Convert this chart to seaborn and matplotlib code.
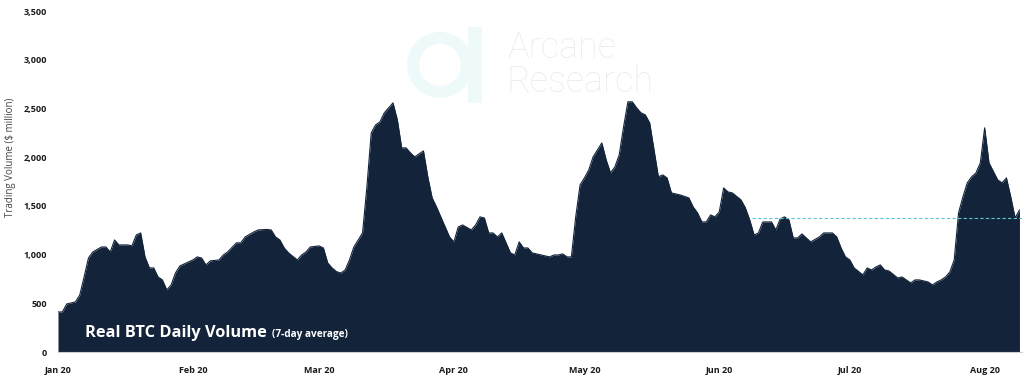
import pandas as pd
import matplotlib
matplotlib.use('Agg')
import matplotlib.pyplot as plt
import matplotlib.dates as mdates
from matplotlib.patches import Wedge, Rectangle
from matplotlib.ticker import FuncFormatter
from matplotlib.transforms import offset_copy
import seaborn as sns

# ------------------------------------------
# Data
# ------------------------------------------
START = '2020-01-01'

day_offset = [0, 1, 2, 4, 5, 6, 7, 8, 10, 11, 12, 13, 14, 16, 17, 18, 19, 20,
              21, 22, 23, 24, 25, 26, 27, 28, 30, 31, 32, 33, 34, 35, 37, 38,
              39, 41, 42, 43, 45, 46, 48, 49, 50, 51, 52, 53, 55, 56, 57, 58,
              60, 61, 62, 63, 64, 65, 66, 67, 68, 70, 71, 72, 73, 74, 75, 77,
              78, 79, 80, 81, 82, 84, 85, 86, 87, 88, 90, 91, 92, 93, 95, 96,
              97, 98, 99, 100, 101, 102, 103, 104, 105, 106, 107, 108, 109,
              110, 111, 113, 114, 115, 116, 117, 118, 119, 120, 121, 122, 123,
              125, 126, 127, 128, 129, 130, 131, 132, 133, 134, 135, 136, 137,
              138, 139, 140, 141, 143, 145, 146, 147, 148, 149, 150, 151, 152,
              153, 154, 155, 157, 158, 159, 160, 161, 162, 163, 164, 165, 166,
              167, 168, 169, 170, 171, 172, 173, 175, 176, 178, 179, 180, 181,
              182, 183, 185, 186, 187, 188, 189, 190, 191, 193, 194, 196, 197,
              198, 200, 201, 202, 203, 204, 205, 206, 207, 208, 209, 210, 211,
              212, 213, 214, 216, 217, 218, 219, 220, 221]

volume = [411, 411, 493, 514, 585, 770, 965, 1027, 1078, 1078, 1027, 1150,
          1099, 1099, 1090, 1201, 1222, 976, 863, 863, 770, 740, 637, 688,
          811, 883, 925, 945, 976, 965, 894, 935, 945, 996, 1027, 1120, 1120,
          1181, 1232, 1253, 1258, 1253, 1181, 1150, 1068, 1017, 945, 996,
          1027, 1078, 1089, 1068, 914, 863, 825, 811, 842, 945, 1078, 1222,
          1695, 2249, 2331, 2362, 2455, 2557, 2383, 2095, 2095, 2044, 2003,
          2064, 1798, 1582, 1489, 1387, 1181, 1130, 1284, 1304, 1253, 1304,
          1387, 1376, 1222, 1222, 1181, 1222, 1120, 1017, 996, 1130, 1068,
          1068, 1017, 1007, 996, 976, 996, 996, 1007, 976, 976, 1387, 1715,
          1787, 1869, 2003, 2146, 1972, 1838, 1900, 2023, 2311, 2568, 2568,
          2506, 2455, 2434, 2352, 2075, 1798, 1818, 1787, 1633, 1612, 1582,
          1489, 1428, 1335, 1335, 1407, 1387, 1438, 1684, 1643, 1633, 1561,
          1479, 1356, 1201, 1222, 1335, 1335, 1335, 1253, 1366, 1387, 1356,
          1171, 1171, 1212, 1171, 1130, 1181, 1222, 1222, 1181, 1068, 976,
          945, 863, 791, 863, 842, 873, 894, 842, 832, 760, 770, 709, 740,
          740, 719, 688, 719, 740, 770, 822, 945, 1428, 1592, 1736, 1798,
          1838, 1941, 2301, 1941, 1766, 1736, 1787, 1592, 1376, 1458]

assert len(day_offset) == len(volume)

REF_LEVEL = 1380          # dashed reference line
REF_FROM_DAY = 159.5

NAVY = '#13233a'
CYAN = '#5cc6cf'

df = pd.DataFrame({'fecha': pd.to_datetime(START) + pd.to_timedelta(day_offset, unit='D'),
                   'volumen': volume})

# ------------------------------------------
# Plot
# ------------------------------------------
sns.set_theme(style='white')
plt.rcParams['font.family'] = ['Open Sans', 'DejaVu Sans']

fig = plt.figure(figsize=(10.24, 3.75), dpi=100)
ax = fig.add_axes([58 / 1024, 23 / 375, 964 / 1024, 341 / 375])

# watermark (logo + name)
logo_kw = dict(transform=fig.dpi_scale_trans, color='#eef9fa', zorder=0, lw=0)
ax.add_patch(Wedge((4.40, 3.10), 0.33, 0, 360, width=0.12, **logo_kw))
ax.add_patch(Rectangle((4.68, 2.72), 0.14, 0.76, **logo_kw))
for txt, ybase in [('Arcane', 58), ('Research', 92)]:
    fig.text(507 / 1024, 1 - ybase / 375, txt, fontsize=26, color='#ebedf0',
             family=['Roboto', 'DejaVu Sans'], fontweight='light',
             va='baseline', zorder=0)

ax.fill_between(df['fecha'], df['volumen'], 0, color=NAVY, lw=0, zorder=2)
sns.lineplot(data=df, x='fecha', y='volumen', color=NAVY, lw=0.8, ax=ax, zorder=3)

fin = df['fecha'].iloc[-1] + pd.Timedelta(hours=14)
ref_start = pd.to_datetime(START) + pd.Timedelta(days=REF_FROM_DAY)
ax.hlines(REF_LEVEL, ref_start, fin, colors=CYAN, linestyles=(0, (3, 2)),
          lw=0.8, zorder=4)

ax.set_xlim(pd.to_datetime(START), fin)
ax.set_ylim(0, 3500)
ax.set_yticks(range(0, 3501, 500))
ax.yaxis.set_major_formatter(FuncFormatter(lambda v, p: f'{int(v):,}'))
ax.xaxis.set_major_locator(mdates.MonthLocator())
ax.xaxis.set_major_formatter(mdates.DateFormatter('%b %y'))

ax.tick_params(axis='y', length=0, pad=8, labelsize=6.5, labelcolor='#1a1a1a')
ax.tick_params(axis='x', length=4, width=0.6, color='#d0d0d0', direction='out',
               pad=6, labelsize=6.5, labelcolor='#1a1a1a')
for lab in ax.get_xticklabels() + ax.get_yticklabels():
    lab.set_fontweight('bold')

ax.set_xlabel('')
ax.set_ylabel('Trading Volume ($ million)', fontsize=7, color='#444444')
ax.yaxis.set_label_coords(-0.044, 0.57)

for s in ['top', 'right', 'left']:
    ax.spines[s].set_visible(False)
ax.spines['bottom'].set_color('#d0d0d0')
ax.spines['bottom'].set_linewidth(0.8)
ax.set_facecolor('none')

# title inside the area
titulo = ax.text(0.028, 0.045, 'Real BTC Daily Volume', transform=ax.transAxes,
                 color='white', fontsize=11.8, fontweight='bold',
                 va='baseline', zorder=5)
fig.canvas.draw()
bb = titulo.get_window_extent()
x_fin = ax.transAxes.inverted().transform((bb.x1, bb.y0))[0]
ax.text(x_fin, 0.045, '(7-day average)',
        transform=offset_copy(ax.transAxes, fig=fig, x=5, y=0, units='dots'),
        color='white', fontsize=7.2, fontweight='bold', va='baseline', zorder=5)

fig.savefig('out.png', dpi=100, facecolor='white')
